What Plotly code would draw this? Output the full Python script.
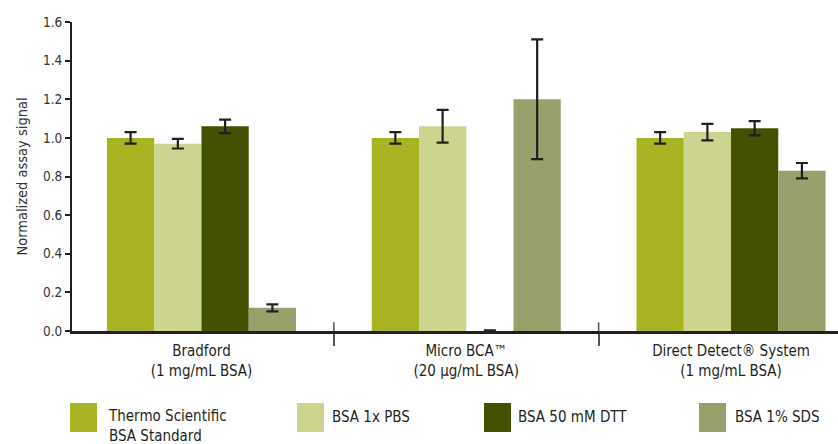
import plotly.graph_objects as go

categories = ["Bradford<br>(1 mg/mL BSA)", "Micro BCA™<br>(20 µg/mL BSA)", "Direct Detect® System<br>(1 mg/mL BSA)"]
series_names = ["Thermo Scientific<br>BSA Standard", "BSA 1x PBS", "BSA 50 mM DTT", "BSA 1% SDS"]
standard_vals = [1.00, 1.00, 1.00]
standard_err = [0.03, 0.03, 0.03]
pbs_vals = [0.97, 1.06, 1.03]
pbs_err = [0.025, 0.085, 0.043]
dtt_vals = [1.06, 0.0, 1.05]
dtt_err = [0.035, 0.004, 0.037]
sds_vals = [0.12, 1.20, 0.83]
sds_err = [0.018, 0.31, 0.04]
y_ticks = [0.0, 0.2, 0.4, 0.6, 0.8, 1.0, 1.2, 1.4, 1.6]

colors = ["#a8b322", "#cdd48f", "#435200", "#98a06b"]
values = [standard_vals, pbs_vals, dtt_vals, sds_vals]
errors = [standard_err, pbs_err, dtt_err, sds_err]

FONT = "DejaVu Sans Condensed, Liberation Sans Narrow, sans-serif"
INK = "#231f20"

W, H = 838, 444
L, R, T, B = 72, 0, 22, 113
pw, ph = W - L - R, H - T - B

def px2paper_x(px):
    return (px - L) / pw

def px2paper_y(py):
    return (H - B - py) / ph

fig = go.Figure()
for name, col, v, e in zip(series_names, colors, values, errors):
    fig.add_trace(go.Bar(
        x=categories, y=v, name=name, marker=dict(color=col, line=dict(width=0)),
        error_y=dict(type="data", array=e, visible=True, color=INK, thickness=2.2, width=6),
        showlegend=False, hoverinfo="skip",
    ))

shapes = []
# group divider marks crossing the baseline
for xb in [0.5, 1.5]:
    shapes.append(dict(type="line", xref="x", yref="y", x0=xb, x1=xb, y0=0, y1=0.045,
                       line=dict(color="#555", width=1.5)))

# custom legend
leg_sw_x = [70, 297, 484, 699]
leg_tx_x = [106, 330, 516, 733]
annotations = []
for i, (name, col) in enumerate(zip(series_names, colors)):
    shapes.append(dict(type="rect", xref="paper", yref="paper",
                       x0=px2paper_x(leg_sw_x[i]), x1=px2paper_x(leg_sw_x[i] + 27),
                       y0=px2paper_y(432), y1=px2paper_y(403),
                       fillcolor=col, line=dict(width=0)))
    two = "<br>" in name
    annotations.append(dict(xref="paper", yref="paper", x=px2paper_x(leg_tx_x[i]),
                            y=px2paper_y(426 if two else 417), xanchor="left", yanchor="middle",
                            text=name, showarrow=False, align="left",
                            font=dict(family=FONT, size=15, color=INK)))

fig.update_layout(
    width=W, height=H, margin=dict(l=L, r=R, t=T, b=B, pad=0),
    barmode="group", bargap=0.286, bargroupgap=0,
    plot_bgcolor="white", paper_bgcolor="white",
    font=dict(family=FONT, color=INK, size=14),
    shapes=shapes, annotations=annotations,
    xaxis=dict(range=[-0.489, 2.404], showline=True, linecolor=INK, linewidth=3,
               ticks="outside", tickson="boundaries", ticklen=12, tickwidth=1.5, tickcolor="#555",
               ticklabelstandoff=4,
               tickfont=dict(size=15, family=FONT, color=INK), showgrid=False, zeroline=False),
    yaxis=dict(range=[0, 1.6], tickvals=y_ticks, ticktext=[f"{t:.1f}" for t in y_ticks],
               showline=True, linecolor=INK, linewidth=2, ticks="outside", ticklen=5,
               tickwidth=1.5, tickcolor=INK, showgrid=False, zeroline=False,
               tickfont=dict(size=13.5, family=FONT, color="#333"),
               title=dict(text="Normalized assay signal", standoff=12,
                          font=dict(size=14.5, family=FONT, color="#333"))),
)

fig.write_html("out.html", config={"displayModeBar": False},
               post_script="document.body.style.margin='0';document.body.style.padding='0';")
